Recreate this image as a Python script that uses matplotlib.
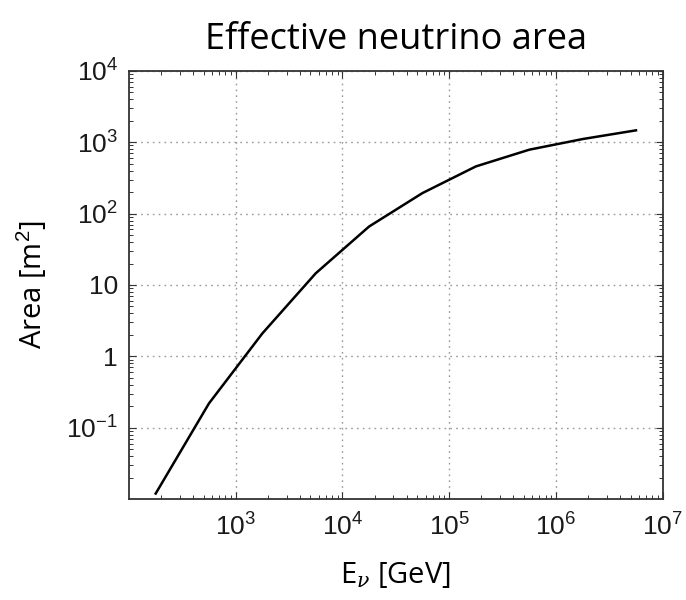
import matplotlib.pyplot as plt
import matplotlib.ticker as mticker
import numpy as np

# effective area vs neutrino energy
energy_gev = [178, 562, 1778, 5623, 17783, 56234, 177828, 562341, 1778279, 5623413]
area_m2 = [0.012, 0.22, 2.1, 14.6, 66, 194, 458, 785, 1107, 1466]

x_ticks = [1e3, 1e4, 1e5, 1e6, 1e7]
x_ticklabels = ['$10^{3}$', '$10^{4}$', '$10^{5}$', '$10^{6}$', '$10^{7}$']
y_ticks = [1e-1, 1, 10, 1e2, 1e3, 1e4]
y_ticklabels = ['$10^{-1}$', '1', '10', '$10^{2}$', '$10^{3}$', '$10^{4}$']

plt.rcParams['mathtext.fontset'] = 'custom'
plt.rcParams['mathtext.rm'] = 'Liberation Sans'
plt.rcParams['mathtext.it'] = 'DejaVu Serif:italic'
plt.rcParams['mathtext.default'] = 'rm'

fig = plt.figure(figsize=(6.86, 6.0), dpi=100)
ax = fig.add_axes([0.188, 0.168, 0.778, 0.714])

ax.plot(energy_gev, area_m2, color='black', linewidth=1.8)

ax.set_xscale('log')
ax.set_yscale('log')
ax.set_xlim(1e2, 1e7)
ax.set_ylim(1e-2, 1e4)

ax.set_xticks(x_ticks)
ax.set_xticklabels(x_ticklabels, fontsize=19, family='Liberation Sans', color='#1a1a1a')
ax.set_yticks(y_ticks)
ax.set_yticklabels(y_ticklabels, fontsize=19, family='Liberation Sans', color='#1a1a1a')
ax.xaxis.set_minor_locator(mticker.LogLocator(base=10, subs=np.arange(2, 10)))
ax.yaxis.set_minor_locator(mticker.LogLocator(base=10, subs=np.arange(2, 10)))
ax.xaxis.set_minor_formatter(mticker.NullFormatter())
ax.yaxis.set_minor_formatter(mticker.NullFormatter())

ax.tick_params(which='both', direction='in', top=True, right=True, color='#333333')
ax.tick_params(which='major', length=5, width=0.8)
ax.tick_params(axis='x', which='major', pad=10)
ax.tick_params(axis='y', which='major', pad=8)
ax.tick_params(which='minor', length=3, width=0.7)

ax.grid(True, which='major', linestyle=(0, (1.2, 3)), color='#999999', linewidth=1.0)
for s in ax.spines.values():
    s.set_linewidth(1.3)
    s.set_color('#333333')

ax.set_title('Effective neutrino area', fontsize=26, family='Open Sans', pad=16)
ax.set_xlabel(r'E$_{\mathit{\nu}}$ [GeV]', fontsize=21, family='Open Sans', labelpad=14)
ax.set_ylabel('Area [m$^{2}$]', fontsize=21, family='Open Sans', labelpad=12)

fig.savefig('out.png', dpi=100)
